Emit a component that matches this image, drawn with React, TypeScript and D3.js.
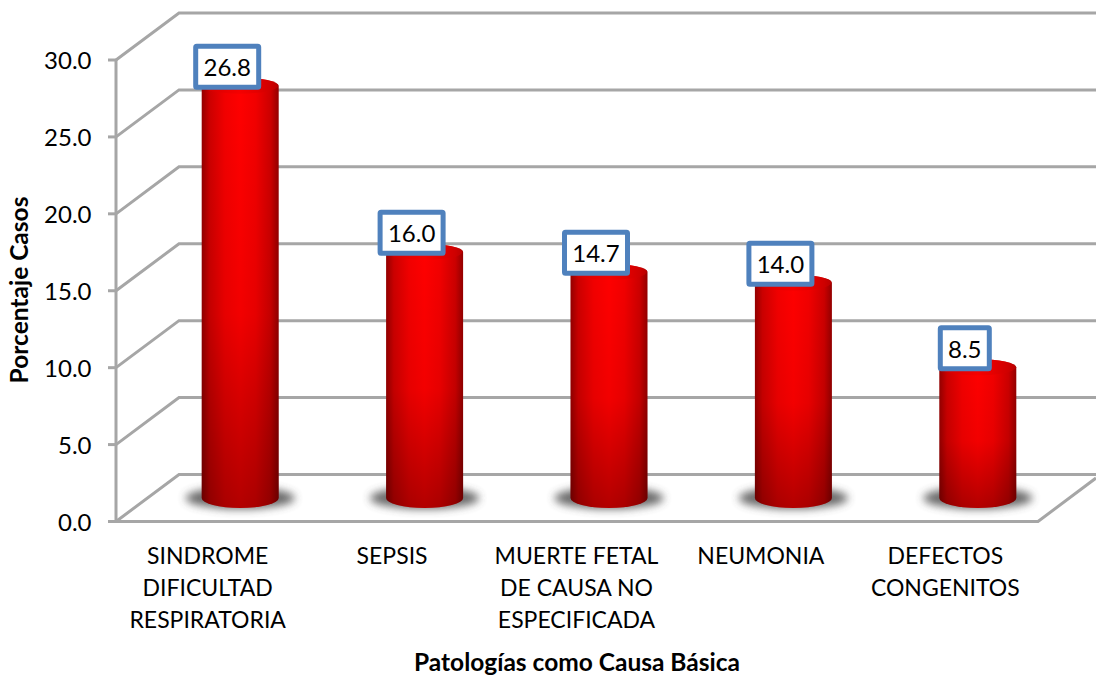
import React from "react";
import * as d3 from "d3";

const categories = [
  ["SINDROME", "DIFICULTAD", "RESPIRATORIA"],
  ["SEPSIS"],
  ["MUERTE FETAL", "DE CAUSA NO", "ESPECIFICADA"],
  ["NEUMONIA"],
  ["DEFECTOS", "CONGENITOS"],
];
const values = [26.8, 16.0, 14.7, 14.0, 8.5];
const valueLabels = ["26.8", "16.0", "14.7", "14.0", "8.5"];
const yTicks = [0, 5, 10, 15, 20, 25, 30];
const yTitle = "Porcentaje Casos";
const xTitle = "Patologías como Causa Básica";

const FONT = "Lato, Carlito, 'Open Sans', sans-serif";
const GRID = "#a6a6a6";

const W = 1096, H = 677;
const axisX = 116, depthX = 63, depthY = 47;
const y = d3.scaleLinear().domain([0, 30]).range([521.5, 60]);
const x = d3.scaleBand<number>().domain(d3.range(values.length)).range([116, 1038]).paddingInner(0).paddingOuter(0);
const barBaseShift = -23.5;
const barOffsetX = 32;
const rx = 38.5;

export default function App() {
  return (
    <svg width={W} height={H} viewBox={`0 0 ${W} ${H}`} style={{ position: "absolute", left: 0, top: 0, background: "#fff" }}>
      <defs>
        <linearGradient id="cyl" x1="0" x2="1" y1="0" y2="0">
          <stop offset="0" stopColor="#940000" />
          <stop offset="0.1" stopColor="#cc0000" />
          <stop offset="0.3" stopColor="#f20000" />
          <stop offset="0.5" stopColor="#ff0000" />
          <stop offset="0.7" stopColor="#f20000" />
          <stop offset="0.9" stopColor="#cc0000" />
          <stop offset="1" stopColor="#940000" />
        </linearGradient>
        <linearGradient id="shade" x1="0" x2="0" y1="0" y2="1">
          <stop offset="0" stopColor="#000" stopOpacity="0" />
          <stop offset="0.55" stopColor="#000" stopOpacity="0.05" />
          <stop offset="1" stopColor="#000" stopOpacity="0.3" />
        </linearGradient>
        <linearGradient id="cap" x1="0" x2="1" y1="0" y2="0">
          <stop offset="0" stopColor="#d40000" />
          <stop offset="0.5" stopColor="#f20000" />
          <stop offset="1" stopColor="#c80000" />
        </linearGradient>
        <filter id="soft" x="-40%" y="-100%" width="180%" height="300%">
          <feGaussianBlur stdDeviation="4.5" />
        </filter>
        <filter id="tiny" x="-5%" y="-5%" width="110%" height="110%">
          <feGaussianBlur stdDeviation="0.6" />
        </filter>
      </defs>

      {/* walls and grid */}
      <g stroke={GRID} strokeWidth={3} fill="none">
        {yTicks.map((t) => (
          <g key={t}>
            <line x1={108} x2={axisX} y1={y(t)} y2={y(t)} />
            <polyline points={`${axisX},${y(t)} ${axisX + depthX},${y(t) - depthY} ${W},${y(t) - depthY}`} />
          </g>
        ))}
        <line x1={axisX} x2={axisX} y1={y(30)} y2={y(0)} />
        <polyline points={`${axisX},${y(0)} ${x.range()[1]},${y(0)} ${x.range()[1] + 58},${y(0) - 43.5}`} />
      </g>

      {/* cylinders */}
      {values.map((v, i) => {
        const cx = x(i)! + barOffsetX + x.bandwidth() / 2;
        const base = y(0) + barBaseShift;
        const top = y(v) + barBaseShift;
        const ryB = 10;
        const ryT = 8;
        const d = `M${cx - rx},${top} A${rx},${ryT} 0 0 1 ${cx + rx},${top} L${cx + rx},${base} A${rx},${ryB} 0 0 1 ${cx - rx},${base} Z`;
        return (
          <g key={i}>
            <ellipse cx={cx} cy={base} rx={rx + 16} ry={11} fill="#444" opacity={0.8} filter="url(#soft)" />
            <path d={d} fill="url(#cyl)" filter="url(#tiny)" />
            <path d={d} fill="url(#shade)" />
            <ellipse cx={cx} cy={top} rx={rx - 0.5} ry={ryT} fill="url(#cap)" opacity={0.7} filter="url(#tiny)" />
          </g>
        );
      })}

      {/* value labels */}
      {values.map((v, i) => {
        const cx = x(i)! + barOffsetX + x.bandwidth() / 2 - 13;
        const cy = y(v) + barBaseShift - 19;
        const w = valueLabels[i].length > 3 ? 63 : 49;
        const h = 41;
        return (
          <g key={i}>
            <rect x={cx - w / 2} y={cy - h / 2} width={w} height={h} rx={1} fill="#fff" stroke="#4f81bd" strokeWidth={5} />
            <text x={cx} y={cy + 9.5} textAnchor="middle" fontFamily={FONT} fontSize={24} fill="#000">{valueLabels[i]}</text>
          </g>
        );
      })}

      {/* y ticks */}
      {yTicks.map((t) => (
        <text key={t} x={91.5} y={y(t) + 9} textAnchor="end" fontFamily={FONT} fontSize={24} fill="#000">{d3.format(".1f")(t)}</text>
      ))}
      <text transform="translate(28,290) rotate(-90)" textAnchor="middle" fontFamily={FONT} fontSize={24.5} fontWeight={700} fill="#000">{yTitle}</text>

      {/* category labels */}
      {categories.map((lines, i) => (
        <text key={i} textAnchor="middle" fontFamily={FONT} fontSize={23} fill="#000">
          {lines.map((l, j) => (
            <tspan key={j} x={x(i)! + x.bandwidth() / 2 - 0.5} y={564 + j * 32}>{l}</tspan>
          ))}
        </text>
      ))}
      <text x={577} y={671} textAnchor="middle" fontFamily={FONT} fontSize={24.5} fontWeight={700} fill="#000">{xTitle}</text>
    </svg>
  );
}
